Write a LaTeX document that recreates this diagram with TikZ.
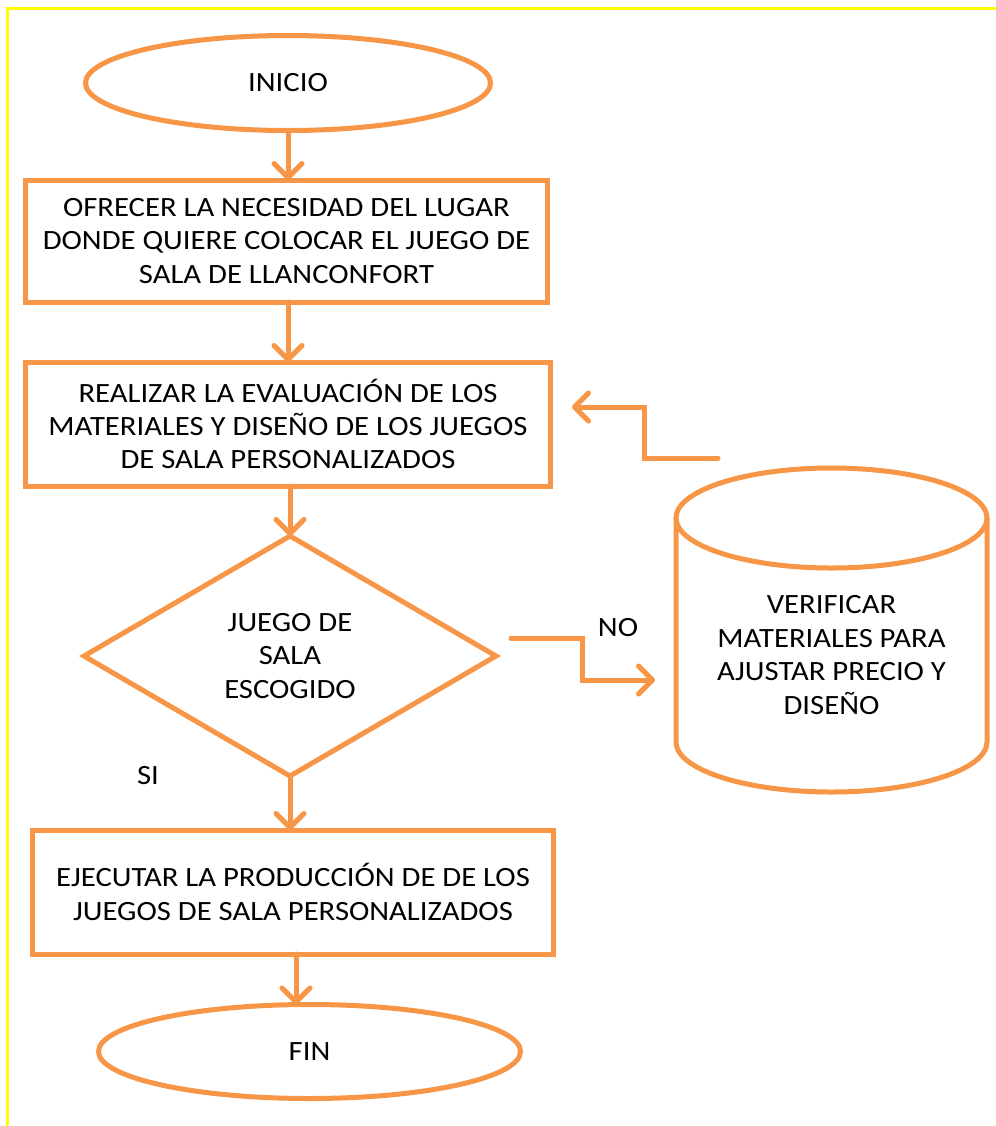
\documentclass[tikz,border=0pt]{standalone}
\usepackage{fontspec}
\setmainfont{Carlito}[FakeStretch=1.1]
\usetikzlibrary{shapes.geometric,arrows.meta}
\definecolor{orng}{HTML}{F79646}
\definecolor{yel}{HTML}{FFFF00}
\begin{document}
\begin{tikzpicture}[x=1bp,y=-1bp,
  every node/.style={font=\fontsize{28}{33.5}\selectfont, align=center, text=black},
  shp/.style={draw=orng, line width=5bp, inner sep=0pt, outer sep=0pt},
  procbox/.style={shp, rectangle},
  term/.style={shp, ellipse},
  dec/.style={shp, diamond},
  arr/.style={draw=orng, line width=5bp, line cap=round, line join=miter,
    -{Straight Barb[length=14bp,width=28bp,round]}},
  frame/.style={draw=yel, line width=3bp}
]
\useasboundingbox (0,0) rectangle (996,1126);
\draw[frame] (7,1126) -- (7,8) -- (996,8);

\node[term, minimum width=405bp, minimum height=95bp] (inicio) at (288,83) {INICIO};
\node[procbox, minimum width=521bp, minimum height=122bp] (b1) at (286.5,241)
  {OFRECER LA NECESIDAD DEL LUGAR\\DONDE QUIERE COLOCAR EL JUEGO DE\\SALA DE LLANCONFORT};
\node[procbox, minimum width=524bp, minimum height=124bp] (b2) at (288,424)
  {REALIZAR LA EVALUACIÓN DE LOS\\MATERIALES Y DISEÑO DE LOS JUEGOS\\DE SALA PERSONALIZADOS};
\node[dec, minimum width=412bp, minimum height=240bp] (dec) at (290,656)
  {JUEGO DE\\SALA\\ESCOGIDO};
\node[procbox, minimum width=520bp, minimum height=124bp] (b3) at (293,892)
  {EJECUTAR LA PRODUCCIÓN DE DE LOS\\JUEGOS DE SALA PERSONALIZADOS};
\node[term, minimum width=422bp, minimum height=94bp] (fin) at (309.5,1051.5) {FIN};

% cylinder
\node[minimum width=311bp, minimum height=324bp, inner sep=0pt] (cyl) at (831.5,655)
  {VERIFICAR\\MATERIALES PARA\\AJUSTAR PRECIO Y\\DISEÑO};
\draw[orng, line width=5bp] (676,518) -- (676,742) arc (180:0:155.5 and 50) -- (987,518);
\draw[orng, line width=5bp] (831.5,518) ellipse (155.5 and 50);

\node (si) at (148,776) {SI};
\node (no) at (618,628) {NO};

% connectors
\draw[arr] (inicio.south) -- (inicio.south |- b1.north);
\draw[arr] (b1.south -| 288,0) -- (b2.north -| 288,0);
\draw[arr] (b2.south -| 290,0) -- (dec.north);
\draw[arr] (dec.south) -- (b3.north -| dec.south);
\draw[arr] (b3.south -| 296,0) -- (fin.north -| 296,0);

\coordinate (r0) at (718,458);
\coordinate (r1) at (644,458);
\coordinate (r2) at (644,407);
\coordinate (r3) at (572,407);
\draw[arr] (r0) -- (r1) -- (r2) -- (r3);

\coordinate (n0) at (511,638);
\coordinate (n1) at (582,638);
\coordinate (n2) at (582,680);
\coordinate (n3) at (655,680);
\draw[arr] (n0) -- (n1) -- (n2) -- (n3);
\end{tikzpicture}
\end{document}
